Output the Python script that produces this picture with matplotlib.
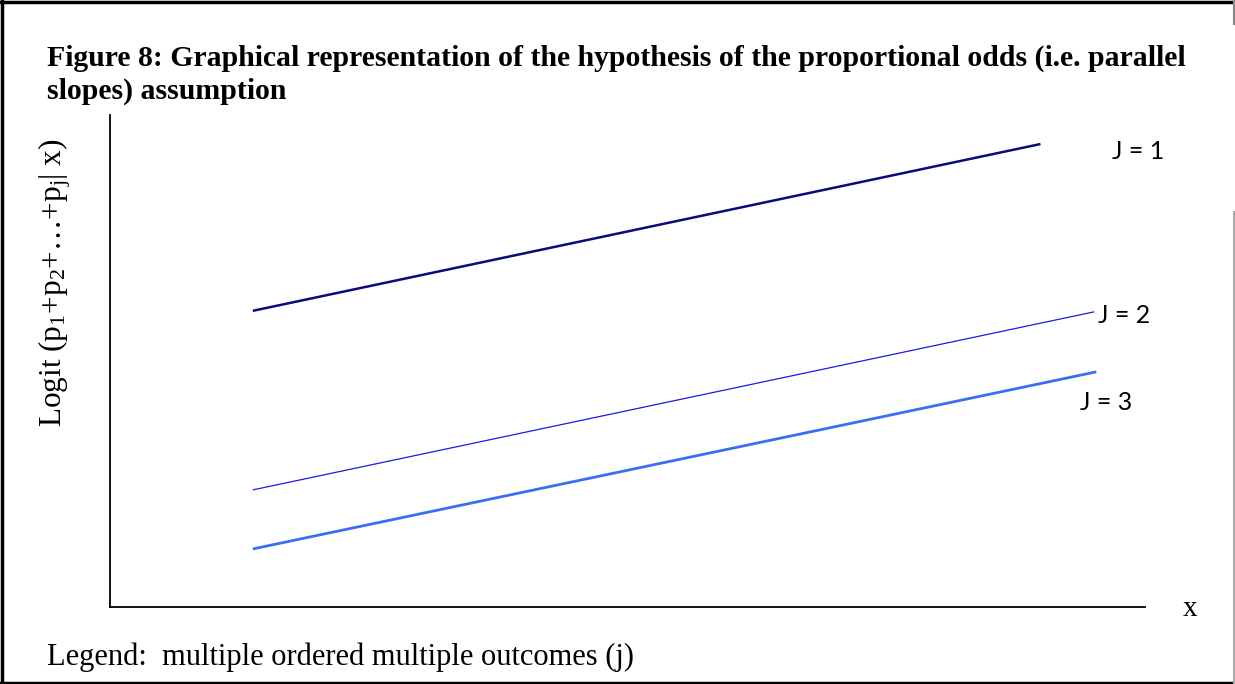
import matplotlib
matplotlib.use("Agg")
import matplotlib.pyplot as plt
from matplotlib.lines import Line2D

plt.rcParams['mathtext.fontset'] = 'custom'
plt.rcParams['mathtext.rm'] = 'Liberation Serif'
plt.rcParams['mathtext.it'] = 'Liberation Serif:italic'

# Data
series_labels = ["J = 1", "J = 2", "J = 3"]
x_start = [1.38, 1.38, 1.38]
x_end = [8.99, 9.51, 9.53]
y_start = [6.02, 2.38, 1.18]
y_end = [9.41, 6.00, 4.78]
colors = ["#0b0b7a", "#1a1ae6", "#3b6ef2"]
widths = [1.8, 0.9, 2.0]
label_pos = [(9.68, 9.25), (9.55, 5.92), (9.37, 4.15)]

W, H = 1235, 684
fig = plt.figure(figsize=(W / 100, H / 100), dpi=100)
ax = fig.add_axes([110 / W, 1 - 607 / H, (1145 - 110) / W, (607 - 115) / H])
ax.set_xlim(0, 10)
ax.set_ylim(0, 10)
for s in ["top", "right"]:
    ax.spines[s].set_visible(False)
for s in ["left", "bottom"]:
    ax.spines[s].set_linewidth(1.3)
    ax.spines[s].set_color("black")
ax.set_xticks([])
ax.set_yticks([])

for i in range(3):
    ax.plot([x_start[i], x_end[i]], [y_start[i], y_end[i]], color=colors[i],
            lw=widths[i], solid_capstyle="butt")
    ax.text(label_pos[i][0], label_pos[i][1], series_labels[i], fontsize=18,
            family="Lato", va="center", ha="left", clip_on=False)

# Title
fig.text(47 / W, 1 - 66 / H,
         "Figure 8: Graphical representation of the hypothesis of the proportional odds (i.e. parallel",
         family="Liberation Serif", weight="bold", fontsize=21.4, va="baseline", ha="left")
fig.text(47 / W, 1 - 99 / H, "slopes) assumption",
         family="Liberation Serif", weight="bold", fontsize=21.4, va="baseline", ha="left")

# y label
fig.text(55 / W, 1 - 283 / H, r"Logit (p$_1$+p$_2$+…+p$_\mathrm{j}$| x)",
         family="Liberation Serif", fontsize=22.5, rotation=90, va="center", ha="center")
# x label
fig.text(1190 / W, 1 - 609 / H, "x", family="Liberation Serif", fontsize=21,
         va="center", ha="center")
# legend note
fig.text(47 / W, 1 - 657 / H, "Legend:  multiple ordered multiple outcomes (j)",
         family="Liberation Serif", fontsize=22, va="center", ha="left")

# border
def fl(x0, y0, x1, y1, c="black", lw=2.5):
    fig.add_artist(Line2D([x0 / W, x1 / W], [1 - y0 / H, 1 - y1 / H], color=c, lw=lw,
                          transform=fig.transFigure))
fl(0, 1.5, W, 1.5, lw=2.5)
fl(1.5, 0, 1.5, H)
fl(0, 682.5, W, 682.5, lw=2.5)
fl(1234, 0, 1234, 24, c="#888888", lw=1.5)
fl(1234, 212, 1234, H, c="#aaaaaa", lw=1.5)

fig.savefig("out.png", dpi=100)
